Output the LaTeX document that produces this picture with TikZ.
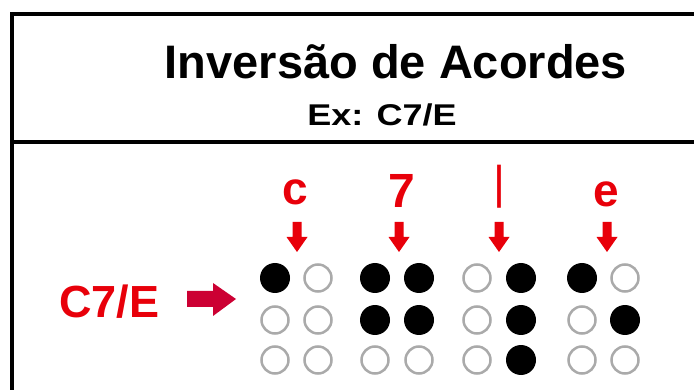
\documentclass[tikz,border=0pt]{standalone}
\usepackage{fontspec}
\setmainfont{Liberation Sans}
\usepackage{graphicx}
\definecolor{txtred}{RGB}{232,0,10}
\definecolor{arrred}{RGB}{204,0,51}
\definecolor{dotgray}{RGB}{170,170,170}
\begin{document}
\begin{tikzpicture}[x=1pt,y=-1pt,
  lbl/.style={inner sep=0pt,anchor=base,text=txtred,font=\fontsize{46}{46}\selectfont\bfseries},
  frameline/.style={line width=4pt,black},
  full/.style={circle,fill=black,inner sep=0pt,minimum size=30pt},
  empty/.style={circle,draw=dotgray,line width=2.5pt,fill=white,inner sep=0pt,minimum size=27pt},
  downarr/.style={fill=txtred}
]
\useasboundingbox (0,0) rectangle (694,390);
\fill[white] (0,0) rectangle (694,390);
% frame
\coordinate (tl) at (12,14);
\coordinate (tr) at (700,14);
\coordinate (bl) at (12,396);
\coordinate (ml) at (12,142);
\coordinate (mr) at (700,142);
\draw[frameline] (tr) -- (tl) -- (bl);
\draw[frameline] (ml) -- (mr);
% titles
\node[inner sep=0pt,anchor=base,font=\fontsize{47}{47}\selectfont\bfseries] (title) at (396,79) {Inversão de Acordes};
\node[inner sep=0pt,anchor=base,font=\fontsize{30}{30}\selectfont\bfseries] (ex) at (382,126) {\scalebox{1.2}[1]{Ex: C7/E}};
% left label and arrow
\node[lbl,anchor=base west,font=\fontsize{45}{45}\selectfont\bfseries] (chord) at (59,317) {C7/E};
\fill[arrred] (187,291) -- (213,291) -- (213,283) -- (236,299) -- (213,316) -- (213,307) -- (187,307) -- cycle;
% letters
\node[lbl] (lc) at (295,205) {c};
\node[lbl,font=\fontsize{48}{48}\selectfont\bfseries] (l7) at (402,208) {7};
\node[lbl,font=\fontsize{46}{46}\selectfont] (lbar) at (499.5,198.3) {|};
\node[lbl] (le) at (606,207) {e};
% small arrows
\foreach \cx in {297,399,499,607}{
  \fill[downarr] (\cx-4.5,222) -- (\cx+4.5,222) -- (\cx+4.5,237) -- (\cx+10.5,237) -- (\cx,252) -- (\cx-10.5,237) -- (\cx-4.5,237) -- cycle;
}
% braille cells
% cell c: dot 1
\node[full]  (c1) at (275,278) {};
\node[empty] (c4) at (318,278) {};
\node[empty] (c2) at (275,320) {};
\node[empty] (c5) at (318,320) {};
\node[empty] (c3) at (275,360) {};
\node[empty] (c6) at (318,360) {};
% cell 7: dots 1 2 4 5
\node[full]  (s1) at (375,278) {};
\node[full]  (s4) at (419,278) {};
\node[full]  (s2) at (375,320) {};
\node[full]  (s5) at (419,320) {};
\node[empty] (s3) at (375,360) {};
\node[empty] (s6) at (419,360) {};
% cell |: dots 4 5 6
\node[empty] (b1) at (477,278) {};
\node[full]  (b4) at (521,278) {};
\node[empty] (b2) at (477,320) {};
\node[full]  (b5) at (521,320) {};
\node[empty] (b3) at (477,360) {};
\node[full]  (b6) at (521,360) {};
% cell e: dots 1 5
\node[full]  (e1) at (582,278) {};
\node[empty] (e4) at (625,278) {};
\node[empty] (e2) at (582,320) {};
\node[full]  (e5) at (625,320) {};
\node[empty] (e3) at (582,360) {};
\node[empty] (e6) at (625,360) {};
\end{tikzpicture}
\end{document}
